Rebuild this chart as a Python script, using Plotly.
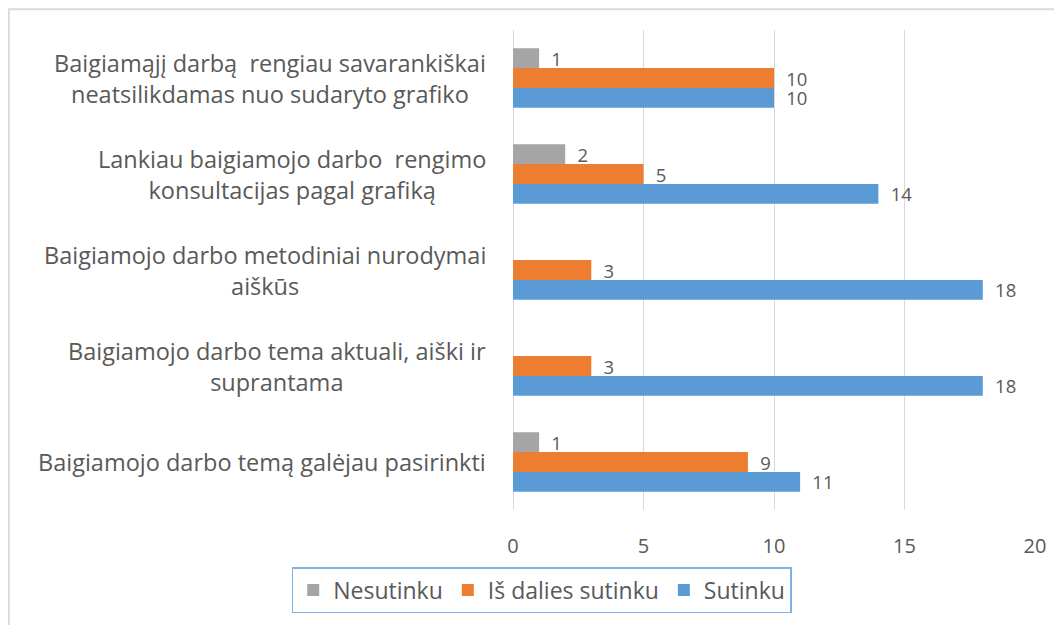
import plotly.graph_objects as go

categories = [
    "Baigiamąjį darbą  rengiau savarankiškai<br>neatsilikdamas nuo sudaryto grafiko",
    "Lankiau baigiamojo darbo  rengimo<br>konsultacijas pagal grafiką",
    "Baigiamojo darbo metodiniai nurodymai<br>aiškūs",
    "Baigiamojo darbo tema aktuali, aiški ir<br>suprantama",
    "Baigiamojo darbo temą galėjau pasirinkti",
]
nesutinku = [1, 2, None, None, 1]
is_dalies = [10, 5, 3, 3, 9]
sutinku = [10, 14, 18, 18, 11]
x_ticks = [0, 5, 10, 15, 20]

FONT = "Open Sans"
TXT = "#595959"

fig = go.Figure()
series = [
    ("Sutinku", sutinku, "#5b9bd5"),
    ("Iš dalies sutinku", is_dalies, "#ed7d31"),
    ("Nesutinku", nesutinku, "#a5a5a5"),
]
for name, vals, color in series:
    fig.add_trace(go.Bar(
        y=categories, x=vals, name=name, orientation="h",
        marker=dict(color=color, line=dict(width=0)),
        text=[("" if v is None else "\u2002" + str(v)) for v in vals],
        textposition="outside", cliponaxis=False, constraintext="none",
        textfont=dict(family=FONT, size=18.5, color=TXT),
    ))

for c in categories:
    fig.add_annotation(
        x=-0.047, xref="paper", y=c, yref="y", text=c, showarrow=False,
        xanchor="right", align="center",
        font=dict(family=FONT, size=23.5, color=TXT),
    )

fig.add_shape(type="rect", xref="paper", yref="paper",
              x0=-0.966, x1=1.1, y0=-0.3, y1=1.043,
              line=dict(color="#d9d9d9", width=2), fillcolor="rgba(0,0,0,0)", layer="below")

fig.update_layout(
    width=1054, height=617,
    margin=dict(l=505, r=27, t=22, b=108),
    paper_bgcolor="white", plot_bgcolor="white",
    barmode="group", bargap=0.38, bargroupgap=0,
    font=dict(family=FONT, color=TXT),
    showlegend=True,
    legend=dict(
        orientation="h", traceorder="reversed",
        x=0.055, xanchor="center", y=-0.119, yanchor="top",
        bordercolor="#7fb2e0", borderwidth=1.5,
        font=dict(family=FONT, size=23, color=TXT),
        itemwidth=30,
    ),
    xaxis=dict(
        range=[0, 20], tickvals=x_ticks, showgrid=True, gridcolor="#d9d9d9",
        gridwidth=1, zeroline=True, zerolinecolor="#d9d9d9", zerolinewidth=1,
        showline=False, tickfont=dict(family=FONT, size=20, color=TXT),
        ticklabelstandoff=22,
    ),
    yaxis=dict(
        categoryorder="array", categoryarray=categories[::-1],
        showticklabels=False, showgrid=False, zeroline=False, showline=False,
    ),
)

fig.write_html("out.html")
